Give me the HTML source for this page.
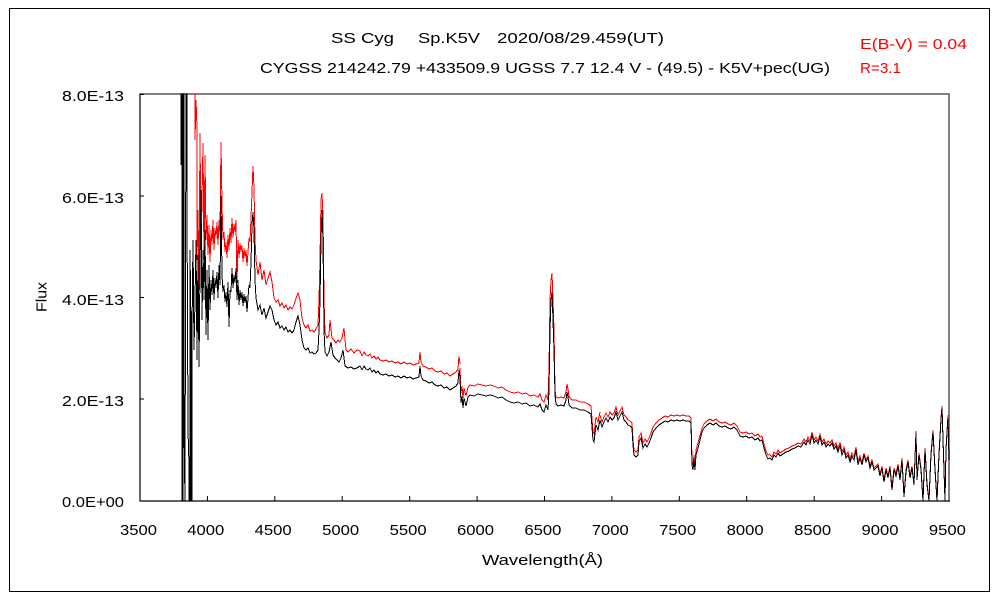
<!DOCTYPE html>
<html><head><meta charset="utf-8"><style>
html,body{margin:0;padding:0;background:#fff;}
svg{display:block;}
text{font-family:"Liberation Sans","Noto Sans CJK JP",sans-serif;}
</style></head><body>
<svg width="1000" height="600" viewBox="0 0 1000 600" xmlns="http://www.w3.org/2000/svg">
<rect x="0" y="0" width="1000" height="600" fill="#fff"/>
<rect x="9.5" y="8.5" width="980" height="583" fill="none" stroke="#000" stroke-width="1"/>

<!-- titles -->
<g font-size="15" fill="#000">
<text x="331" y="43" textLength="63" lengthAdjust="spacingAndGlyphs">SS Cyg</text>
<text x="418" y="43" textLength="62" lengthAdjust="spacingAndGlyphs">Sp.K5V</text>
<text x="497" y="43" textLength="167" lengthAdjust="spacingAndGlyphs">2020/08/29.459(UT)</text>
<text x="260" y="73" textLength="570" lengthAdjust="spacingAndGlyphs">CYGSS 214242.79 +433509.9 UGSS 7.7 12.4 V - (49.5) - K5V+pec(UG)</text>
</g>
<g font-size="15" fill="#ff0000">
<text x="860" y="49" textLength="107" lengthAdjust="spacingAndGlyphs">E(B-V) = 0.04</text>
<text x="860" y="73" textLength="41" lengthAdjust="spacingAndGlyphs">R=3.1</text>
</g>

<!-- plot frame -->
<polyline points="140,94 949,94 949,501" fill="none" stroke="#808080" stroke-width="2"/>
<line x1="140" y1="93.5" x2="140" y2="501.5" stroke="#000" stroke-width="1.2"/>
<line x1="140" y1="501" x2="950" y2="501" stroke="#000" stroke-width="1.2"/>
<g stroke="#000" stroke-width="1">
<line x1="140" y1="94.5" x2="144" y2="94.5"/>
<line x1="140" y1="196" x2="144" y2="196"/>
<line x1="140" y1="297.5" x2="144" y2="297.5"/>
<line x1="140" y1="399" x2="144" y2="399"/>
<line x1="207.4" y1="501" x2="207.4" y2="496"/>
<line x1="274.8" y1="501" x2="274.8" y2="496"/>
<line x1="342.2" y1="501" x2="342.2" y2="496"/>
<line x1="409.7" y1="501" x2="409.7" y2="496"/>
<line x1="477.1" y1="501" x2="477.1" y2="496"/>
<line x1="544.5" y1="501" x2="544.5" y2="496"/>
<line x1="611.9" y1="501" x2="611.9" y2="496"/>
<line x1="679.3" y1="501" x2="679.3" y2="496"/>
<line x1="746.7" y1="501" x2="746.7" y2="496"/>
<line x1="814.2" y1="501" x2="814.2" y2="496"/>
<line x1="881.6" y1="501" x2="881.6" y2="496"/>
</g>

<!-- y tick labels -->
<g font-size="15" fill="#000" text-anchor="end">
<text x="124" y="101" textLength="62" lengthAdjust="spacingAndGlyphs">8.0E-13</text>
<text x="124" y="203" textLength="62" lengthAdjust="spacingAndGlyphs">6.0E-13</text>
<text x="124" y="305" textLength="62" lengthAdjust="spacingAndGlyphs">4.0E-13</text>
<text x="124" y="406" textLength="62" lengthAdjust="spacingAndGlyphs">2.0E-13</text>
<text x="124" y="507" textLength="62" lengthAdjust="spacingAndGlyphs">0.0E+00</text>
</g>
<!-- x tick labels -->
<g font-size="15" fill="#000" text-anchor="middle">
<text x="138.5" y="535" textLength="37" lengthAdjust="spacingAndGlyphs">3500</text>
<text x="205.8" y="535" textLength="37" lengthAdjust="spacingAndGlyphs">4000</text>
<text x="273.2" y="535" textLength="37" lengthAdjust="spacingAndGlyphs">4500</text>
<text x="340.6" y="535" textLength="37" lengthAdjust="spacingAndGlyphs">5000</text>
<text x="408.1" y="535" textLength="37" lengthAdjust="spacingAndGlyphs">5500</text>
<text x="475.5" y="535" textLength="37" lengthAdjust="spacingAndGlyphs">6000</text>
<text x="542.9" y="535" textLength="37" lengthAdjust="spacingAndGlyphs">6500</text>
<text x="610.3" y="535" textLength="37" lengthAdjust="spacingAndGlyphs">7000</text>
<text x="677.7" y="535" textLength="37" lengthAdjust="spacingAndGlyphs">7500</text>
<text x="745.1" y="535" textLength="37" lengthAdjust="spacingAndGlyphs">8000</text>
<text x="812.6" y="535" textLength="37" lengthAdjust="spacingAndGlyphs">8500</text>
<text x="880.0" y="535" textLength="37" lengthAdjust="spacingAndGlyphs">9000</text>
<text x="947.4" y="535" textLength="37" lengthAdjust="spacingAndGlyphs">9500</text>
</g>
<!-- axis titles -->
<text x="542.5" y="565" font-size="15" text-anchor="middle" textLength="121" lengthAdjust="spacingAndGlyphs">Wavelength(Å)</text>
<text transform="translate(46.5,297) rotate(-90)" font-size="15" text-anchor="middle" textLength="30" lengthAdjust="spacingAndGlyphs">Flux</text>

<defs>
<path id="sA" d="M362,370 L364,366 L366,369 L368,370 L370,368 L372,372 L374,370 L376,373 L378,371 L380,374 L383,375 L386,374 L389,376 L392,375 L395,377 L398,376 L401,378 L404,376 L407,378 L410,377 L413,379 L416,378 L419,377 L420,366 L421,376 L423,380 L426,381 L429,383 L432,382 L435,385 L438,386 L441,385 L444,388 L447,387 L450,390 L453,388 L456,386 L458,383 L459,370 L460,378"/>
<path id="sB" d="M460,378 L461,403 L462,396 L463,408 L464,398 L466,406 L468,397 L470,395 L474,396 L478,394 L482,395 L486,396 L490,395 L494,396 L498,398 L502,397 L506,400 L510,402 L514,403 L518,402 L522,404 L526,403 L530,406 L534,405 L538,407 L540,404 L542,410 L544,412 L546,405 L548,410"/>
<path id="sD" d="M561,405 L564,406 L566,400 L567,392 L568,397 L569,405 L572,408 L576,408 L580,410 L584,410 L588,412 L591,414 L593,440 L594,442 L596,425 L598,430 L600,420"/>
<path id="sE" d="M600,420 L602,427 L604,422 L606,418 L608,422 L610,417 L612,420 L614,418 L616,412 L618,420 L620,416 L622,412 L624,420 L626,422 L628,425 L630,426 L632,428 L633,445 L634,455 L636,457 L638,455 L639,442 L641,438 L643,448 L645,444 L647,447 L649,443 L651,438 L653,432 L656,428 L659,425 L662,423 L665,421 L668,422 L671,420 L674,421 L677,420 L680,421 L683,420 L686,421 L689,421 L691,423 L692,465 L693,470 L694,460 L695,470 L696,455 L698,448 L700,440"/>
<path id="sF" d="M700,440 L702,432 L704,428 L707,425 L710,423 L713,425 L716,423 L719,426 L722,427 L725,426 L728,428 L731,429 L734,427 L737,430 L740,436 L743,437 L746,436 L749,438 L752,437 L755,440 L758,438 L760,441 L762,440 L764,448 L766,455 L768,459 L770,458"/>
<path id="sG" d="M770,458 L772,460 L774,455 L776,457 L778,453 L780,456 L783,454 L786,452 L789,451 L792,449 L795,448 L798,446 L801,447 L804,442 L806,445 L808,440 L810,444 L812,435 L814,443 L816,440 L818,444 L820,437 L822,445 L824,442 L826,447 L828,444 L830,446 L832,443 L834,449 L836,446 L838,452 L840,445 L842,455 L844,450 L846,458 L848,455 L850,462 L852,456 L854,460 L856,450 L858,465 L860,458"/>
<path id="sH" d="M860,458 L862,465 L864,455 L866,462 L868,458 L870,468 L872,462 L874,470 L876,468 L878,466 L880,476 L882,468 L884,482 L886,470 L888,478 L890,468 L892,490 L894,470 L896,476 L898,466 L900,480 L902,460 L904,497 L906,472 L908,462 L910,478 L912,468 L914,485 L916,433 L917,480 L919,455 L921,470 L923,501 L925,450 L927,485 L929,501 L931,455 L933,432 L935,470 L937,501 L939,455 L941,420 L942,408 L943,440 L945,501 L946,450 L948,417 L949,460"/>
</defs>

<!-- red (dereddened) spectrum -->
<g fill="none" stroke="#ff0000" stroke-width="1" shape-rendering="crispEdges">
<path d="M195,94 L195,140 L196,100 L197,128 L197,260 L198,210 L199,290 L200,133 L201,250 L202,200 L203,143 L204,260 L205,155 L206,240 L207,215 L208,255 L209,225 L210,262 L211,230 L212,245 L213,220 L214,250 L215,228 L216,238 L217,222 L218,245 L219,220 L220,235 L221,142 L222,205 L223,240 L224,232 L225,252 L226,242 L227,258 L228,235 L229,250 L230,228 L231,243 L232,218 L233,238 L234,224 L235,232 L236,220 L237,283 L238,240 L239,258 L240,243 L241,252 L242,245 L243,262 L244,248 L245,258 L246,250 L247,266 L248,252 L249,238 L250,242 L251,218 L252,192 L253,166 L254,188 L255,240 L256,260 L258,275 L260,262 L262,280 L264,270 L266,285 L268,278 L270,272 L272,282 L274,298 L276,302 L278,300 L280,306 L282,303 L284,308 L286,305 L288,310 L290,307 L292,309 L294,305 L296,298 L298,293 L300,300 L302,318 L304,325 L306,328 L308,325 L310,331 L312,330 L314,332 L316,329 L318,325 L319,300 L320,260 L321,200 L322,193 L323,215 L324,300 L325,333 L327,338 L329,335 L330,320 L332,338 L334,340 L336,343 L338,340 L340,342 L342,338 L344,328 L346,350 L348,352 L351,349 L354,353 L357,350 L360,351 L362,356"/>
<use href="#sA" transform="translate(0,-14)"/>
<use href="#sB" transform="translate(0,-10)"/>
<path d="M548,400 L549,370 L550,300 L551,280 L552,273 L553,300 L554,330 L555,390 L556,397 L558,398 L561,397"/>
<use href="#sD" transform="translate(0,-8)"/>
<use href="#sE" transform="translate(0,-5)"/>
<use href="#sF" transform="translate(0,-4)"/>
<use href="#sG" transform="translate(0,-3)"/>
<use href="#sH" transform="translate(0,-2)"/>
</g>

<!-- black (observed) spectrum -->
<g fill="none" stroke="#000" stroke-width="1" shape-rendering="crispEdges">
<path d="M181,165 L181,94 L182,94 L182,501 L183,501 L183,94 L184,94 L184,430 L185,501 L186,94 L187,94 L187,205 L188,430 L189,465 L189,501 L190,501 L190,250 L191,330 L191,501 L192,501 L192,330 L193,240 L194,350 L195,300 L196,240 L197,360 L198,255 L199,367 L200,270 L201,190 L202,320 L203,250 L204,300 L205,230 L206,335 L207,270 L208,340 L209,265 L210,310 L211,280 L212,295 L213,270 L214,300 L215,278 L216,288 L217,272 L218,298 L219,265 L220,285 L221,196 L222,275 L223,292 L224,285 L225,302 L226,292 L227,307 L228,282 L229,327 L230,290 L231,292 L232,268 L233,288 L234,275 L235,283 L236,268 L237,300 L238,280 L239,305 L240,290 L241,300 L242,292 L243,306 L244,294 L245,303 L246,296 L247,312 L248,298 L249,285 L250,288 L251,262 L252,225 L253,212 L254,230 L255,280 L256,298 L258,310 L260,305 L262,315 L264,308 L266,318 L268,312 L270,306 L272,310 L274,320 L276,325 L278,322 L280,328 L282,326 L284,330 L286,327 L288,332 L290,330 L292,333 L294,330 L296,322 L298,316 L300,325 L302,340 L304,348 L306,350 L308,348 L310,353 L312,352 L314,354 L316,353 L318,350 L319,330 L320,300 L321,240 L322,210 L323,240 L324,330 L325,352 L327,356 L329,352 L331,342 L333,355 L335,358 L337,360 L339,362 L341,358 L343,350 L345,366 L348,368 L351,367 L354,369 L357,368 L360,366 L362,370"/>
<use href="#sA"/>
<use href="#sB"/>
<path d="M548,410 L549,390 L550,330 L551,300 L552,292 L553,320 L554,350 L555,395 L556,404 L558,406 L561,405"/>
<use href="#sD"/>
<use href="#sE"/>
<use href="#sF"/>
<use href="#sG"/>
<use href="#sH"/>
</g>
</svg>
</body></html>
